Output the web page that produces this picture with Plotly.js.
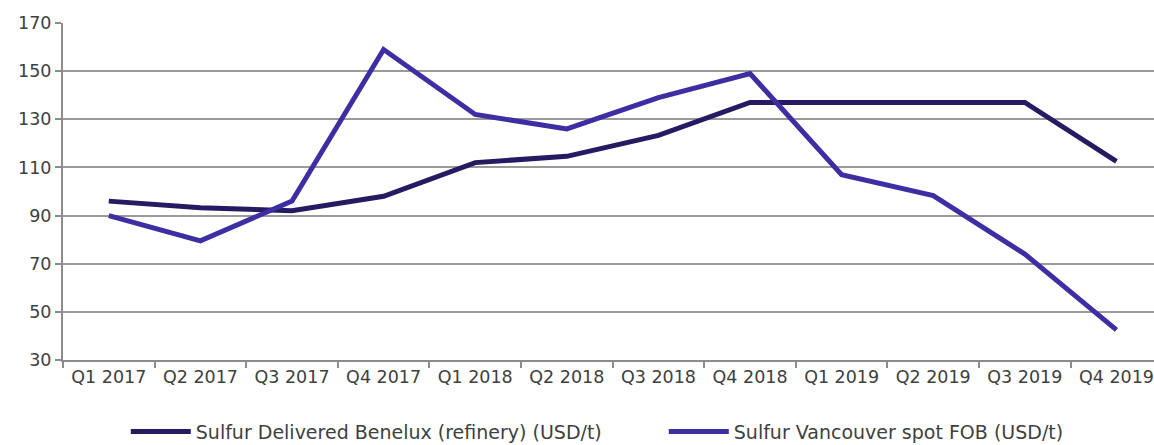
<!DOCTYPE html>
<html>
<head>
<meta charset="utf-8">
<script src="https://cdn.plot.ly/plotly-3.0.1.min.js"></script>
<style>
html,body{margin:0;padding:0;background:#fff;}
#chart{width:1154px;height:445px;}
</style>
</head>
<body>
<div id="chart"></div>
<script>
const categories = ["Q1 2017","Q2 2017","Q3 2017","Q4 2017","Q1 2018","Q2 2018","Q3 2018","Q4 2018","Q1 2019","Q2 2019","Q3 2019","Q4 2019"];
const beneluxName = "Sulfur Delivered Benelux (refinery) (USD/t)";
const beneluxValues = [96, 93.3, 92, 98, 112, 114.6, 123.3, 137, 137, 137, 137, 112.5];
const vancouverName = "Sulfur Vancouver spot FOB (USD/t)";
const vancouverValues = [90, 79.5, 96, 159, 132, 126, 139, 149, 107, 98.3, 74, 42.5];
const yTicks = [30, 50, 70, 90, 110, 130, 150, 170];

const traces = [
  {x: categories, y: beneluxValues, name: beneluxName, type: "scatter", mode: "lines",
   line: {color: "#241b63", width: 5}},
  {x: categories, y: vancouverValues, name: vancouverName, type: "scatter", mode: "lines",
   line: {color: "#3d2ea3", width: 5}}
];

const layout = {
  width: 1154, height: 445,
  margin: {l: 63, r: 0, t: 23, b: 85},
  paper_bgcolor: "#fff", plot_bgcolor: "#fff",
  font: {family: "DejaVu Sans, sans-serif", size: 17, color: "#404040"},
  showlegend: true,
  legend: {orientation: "h", xref: "container", yref: "container",
    x: 0.109, xanchor: "left", y: 0.03, yanchor: "middle",
    font: {family: "DejaVu Sans, sans-serif", size: 19, color: "#404040"},
    entrywidth: 463, entrywidthmode: "pixels", itemwidth: 60, tracegroupgap: 0},
  xaxis: {type: "category", range: [-0.5, 11.41], showgrid: false, zeroline: false,
    showline: true, linecolor: "#8c8c8c", linewidth: 2,
    ticks: "outside", tickson: "boundaries", ticklen: 6, tickcolor: "#8c8c8c", tickwidth: 2,
    tickfont: {size: 17.5, color: "#404040"}, fixedrange: true, automargin: false},
  yaxis: {range: [30, 170], tickvals: yTicks, ticktext: yTicks.map(String),
    showgrid: true, gridcolor: "#9a9a9a", gridwidth: 2, zeroline: false,
    showline: true, linecolor: "#8c8c8c", linewidth: 2,
    ticks: "outside", ticklen: 6, tickcolor: "#8c8c8c", tickwidth: 2,
    tickfont: {size: 17.5, color: "#404040"}, fixedrange: true, automargin: false}
};

Plotly.newPlot("chart", traces, layout, {displayModeBar: false, staticPlot: true});
</script>
</body>
</html>
